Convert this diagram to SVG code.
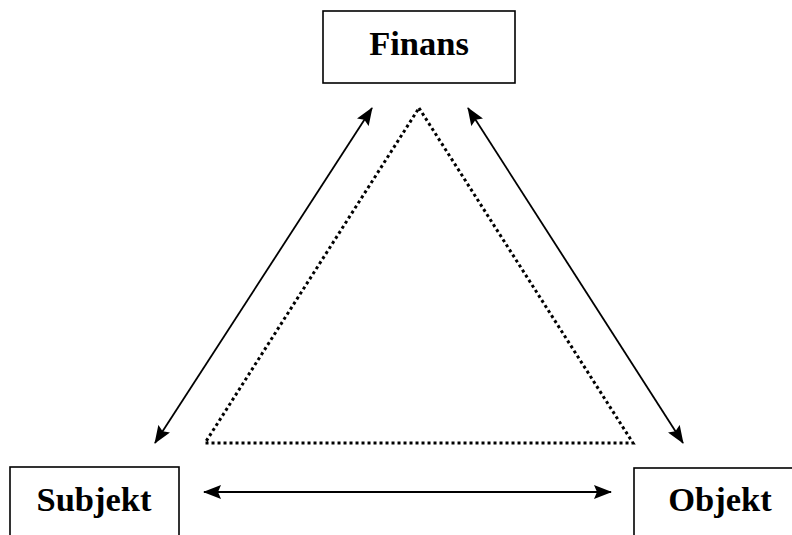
<svg xmlns="http://www.w3.org/2000/svg" width="792" height="535" viewBox="0 0 792 535">
  <style>
    .box { fill: #ffffff; stroke: #000000; stroke-width: 1.6; }
    .label { font-family: "Liberation Serif", "Times New Roman", serif; font-weight: bold; font-size: 34.5px; fill: #000000; text-anchor: middle; }
    .link { stroke: #000000; stroke-width: 1.8; fill: none; marker-start: url(#head); marker-end: url(#head); }
    .dots { stroke: #000000; stroke-width: 3; fill: none; stroke-dasharray: 3 3; stroke-linejoin: miter; }
  </style>
  <defs>
    <marker id="head" viewBox="0 0 18 14" refX="17" refY="7" markerWidth="18" markerHeight="14" markerUnits="userSpaceOnUse" orient="auto-start-reverse">
      <path d="M0,0 L18,7 L0,14 L3,7 Z" fill="#000000"/>
    </marker>
  </defs>
  <rect width="792" height="535" fill="#ffffff"/>

  <g id="finans">
    <rect class="box" x="323" y="11" width="192" height="72"/>
    <text class="label" x="419" y="55">Finans</text>
  </g>

  <g id="subjekt">
    <rect class="box" x="10" y="467" width="169" height="80"/>
    <text class="label" x="94" y="511">Subjekt</text>
  </g>

  <g id="objekt">
    <rect class="box" x="634" y="468" width="180" height="80"/>
    <text class="label" x="720" y="511">Objekt</text>
  </g>

  <g id="connectors">
    <line class="link" x1="155" y1="443" x2="372" y2="108"/>
    <line class="link" x1="683" y1="443" x2="468" y2="108"/>
    <line class="link" x1="204" y1="492" x2="611" y2="492"/>
    <polygon class="dots" points="419,108 633,443 205,443"/>
  </g>
</svg>
